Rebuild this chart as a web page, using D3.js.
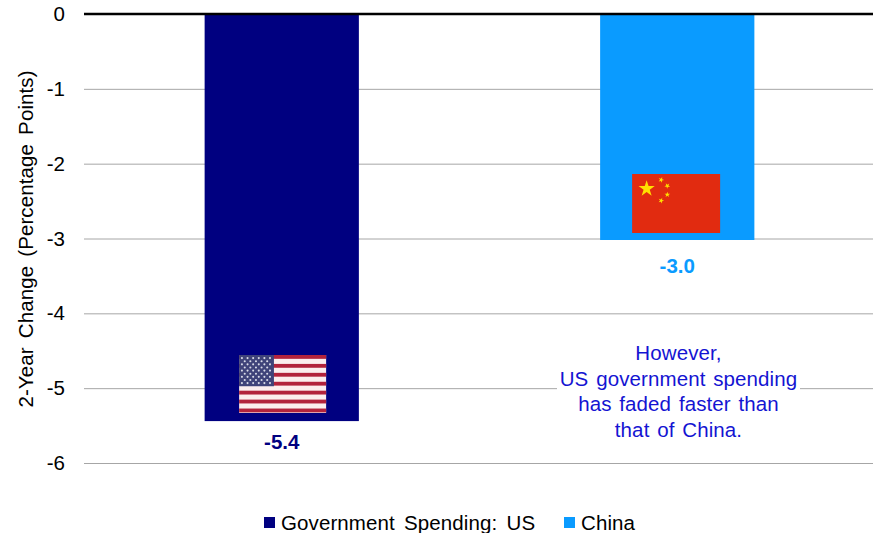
<!DOCTYPE html>
<html>
<head>
<meta charset="utf-8">
<script src="https://cdn.jsdelivr.net/npm/d3@7"></script>
<style>
html,body{margin:0;padding:0;background:#fff}
svg{display:block}
text{font-family:"Liberation Sans",Arial,sans-serif}
</style>
</head>
<body>
<svg id="chart" width="879" height="533"></svg>
<script>
const categories = ["Government Spending: US", "China"];
const changes = [-5.44, -3.02];
const barColors = ["#000080", "#0a9bff"];
const yTicks = [0, -1, -2, -3, -4, -5, -6];
const noteLines = ["However,", "US government spending", "has faded faster than", "that of China."];
const yTitle = "2-Year Change (Percentage Points)";

const svg = d3.select("#chart");
const y = d3.scaleLinear().domain([0, -6]).range([14, 463]);
const x = d3.scaleBand().domain(categories).range([84, 875]).paddingInner(0.61).paddingOuter(0.305);
const labelSize = 20.5;
const valueLabelGap = [28, 33];

// Gridlines and tick labels
const axis = d3.axisLeft(y).tickValues(yTicks).tickSize(-789).tickPadding(19).tickFormat(d3.format("d"));
const axisG = svg.append("g").attr("transform", "translate(84,0)").call(axis);
axisG.select(".domain").remove();
axisG.selectAll(".tick line").attr("stroke", "#a6a6a6").attr("stroke-width", 1);
axisG.selectAll(".tick text").attr("fill", "#000").attr("font-size", labelSize)
  .text(d => d === 0 ? "0" : "-" + Math.abs(d));

// Bars
svg.append("g").selectAll("rect").data(categories).join("rect")
  .attr("x", d => x(d))
  .attr("width", x.bandwidth())
  .attr("y", y(0))
  .attr("height", (d, i) => y(changes[i]) - y(0))
  .attr("fill", (d, i) => barColors[i]);

// Zero line sits over the bars
svg.append("line").attr("x1", 84).attr("x2", 873).attr("y1", y(0)).attr("y2", y(0))
  .attr("stroke", "#000").attr("stroke-width", 2.5);

// Value labels
svg.append("g").selectAll("text").data(categories).join("text")
  .attr("x", d => x(d) + x.bandwidth() / 2)
  .attr("y", (d, i) => y(changes[i]) + valueLabelGap[i])
  .attr("text-anchor", "middle")
  .attr("font-size", labelSize).attr("font-weight", "bold")
  .attr("fill", (d, i) => barColors[i])
  .text((d, i) => changes[i].toFixed(1));

// Axis title
svg.append("text")
  .attr("transform", "translate(33,239) rotate(-90)")
  .attr("text-anchor", "middle")
  .attr("font-size", labelSize)
  .attr("letter-spacing", 0.1)
  .attr("word-spacing", 3.3)
  .text(yTitle);

// United States flag
function drawUsFlag(g, w, h) {
  const stripeH = h / 13;
  g.append("rect").attr("width", w).attr("height", h).attr("fill", "#fbeeee");
  d3.range(0, 13, 2).forEach(i => {
    g.append("rect").attr("y", i * stripeH).attr("width", w).attr("height", stripeH * 0.86).attr("fill", "#b2233c");
  });
  const cw = w * 0.4, ch = stripeH * 7;
  g.append("rect").attr("width", cw).attr("height", ch).attr("fill", "#3f4379");
  d3.range(9).forEach(row => {
    const n = row % 2 ? 5 : 6;
    d3.range(n).forEach(col => {
      g.append("circle")
        .attr("cx", cw * ((row % 2 ? 2 : 1) + col * 2) / 12.4)
        .attr("cy", ch * (row + 1) / 10)
        .attr("r", 1.05)
        .attr("fill", "#d9dbe8");
    });
  });
}

// China flag
function starPath(r) {
  const pts = d3.range(10).map(i => {
    const rad = i % 2 ? r * 0.382 : r;
    const a = -Math.PI / 2 + i * Math.PI / 5;
    return [rad * Math.cos(a), rad * Math.sin(a)];
  });
  return d3.line()(pts) + "Z";
}
function drawChinaFlag(g, w, h) {
  g.append("rect").attr("width", w).attr("height", h).attr("fill", "#e12b10");
  const star = (cx, cy, r, rot) => g.append("path")
    .attr("d", starPath(r))
    .attr("transform", `translate(${cx},${cy}) rotate(${rot})`)
    .attr("fill", "#ffe000");
  star(w * 0.165, h * 0.25, 8.5, 0);
  star(w * 0.33, h * 0.1, 3, 20);
  star(w * 0.4, h * 0.2, 3, 40);
  star(w * 0.4, h * 0.35, 3, 0);
  star(w * 0.33, h * 0.45, 3, 20);
}

const flagW = 87;
drawUsFlag(svg.append("g").attr("transform", `translate(${x(categories[0]) + 34.5},355)`), flagW, 58);
drawChinaFlag(svg.append("g").attr("transform", `translate(${x(categories[1]) + 32},174)`), flagW + 1, 59);

// Annotation on a white panel that interrupts the gridline
const noteCx = 678.5, noteTop = 342;
svg.append("rect").attr("x", 557).attr("y", noteTop).attr("width", 243).attr("height", 100).attr("fill", "#fff");
svg.append("g").selectAll("text").data(noteLines).join("text")
  .attr("x", noteCx)
  .attr("y", (d, i) => 360 + i * 25.7)
  .attr("text-anchor", "middle")
  .attr("font-size", labelSize)
  .attr("letter-spacing", 0.1)
  .attr("word-spacing", 2)
  .attr("fill", "#1414d2")
  .text(d => d);

// Legend
const legendItems = [
  { x: 264, textX: 281 },
  { x: 564, textX: 581 }
];
const legend = svg.append("g").selectAll("g").data(categories).join("g");
legend.append("rect")
  .attr("x", (d, i) => legendItems[i].x)
  .attr("y", 517).attr("width", 11).attr("height", 11)
  .attr("fill", (d, i) => barColors[i]);
legend.append("text")
  .attr("x", (d, i) => legendItems[i].textX)
  .attr("y", 530)
  .attr("font-size", labelSize)
  .attr("letter-spacing", 0.1)
  .attr("word-spacing", 3.5)
  .text(d => d);
</script>
</body>
</html>
